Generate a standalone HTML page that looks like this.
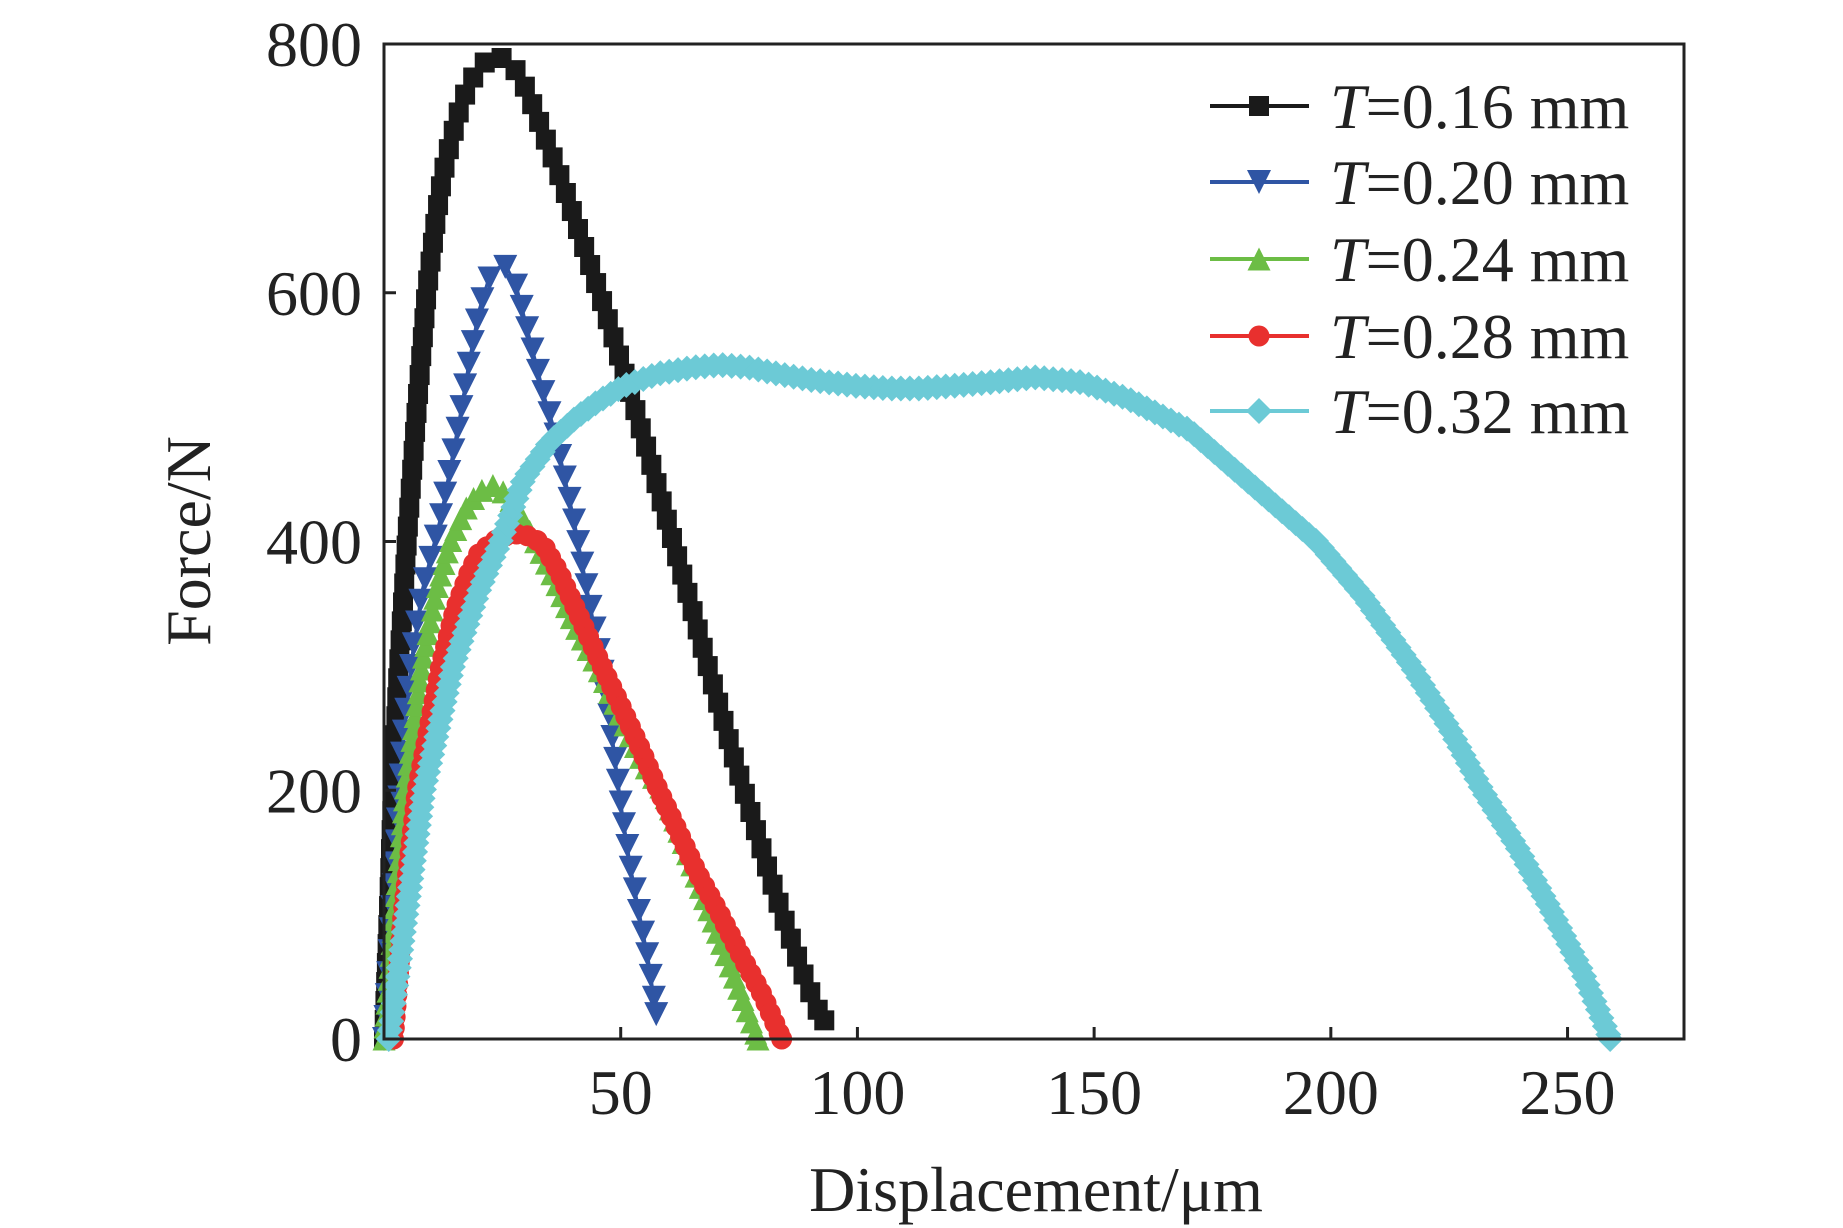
<!DOCTYPE html>
<html><head><meta charset="utf-8"><style>
html,body{margin:0;padding:0;background:#fff}
svg{display:block;font-family:"Liberation Serif",serif}
</style></head><body>
<svg id="chart" width="1843" height="1228" viewBox="0 0 1843 1228" xmlns="http://www.w3.org/2000/svg">
<rect x="0" y="0" width="1843" height="1228" fill="#fff"/>
<g id="series"></g>
<rect x="384" y="44" width="1300" height="995" fill="none" stroke="#222" stroke-width="3"/>
<g id="axes"></g>
<text x="1036" y="1211" font-size="64" text-anchor="middle" fill="#222">Displacement/μm</text>
<text transform="translate(210,541) rotate(-90)" font-size="64" text-anchor="middle" fill="#222">Force/N</text>
<g id="legend"></g>
</svg>
<script>
const xTicks=[50,100,150,200,250];
const yTicks=[0,200,400,600,800];
const seriesNames=["T=0.16 mm","T=0.20 mm","T=0.24 mm","T=0.28 mm","T=0.32 mm"];
const x016=[0,1,2,3,4,5,6,7,8,9,10,11,12,13,14,16,18,20,22,24,26,28,30,32,34,36,38,40,42,44,46,48,50,52,54,56,58,60,62,64,66,68,70,72,74,76,78,80,82,84,86,88,90,92,93];
const y016=[0,100,210,290,350,410,460,510,555,600,630,660,685,705,720,748,768,780,788,790,787,778,764,745,725,705,685,662,640,617,594,570,545,520,494,468,441,414,387,360,333,305,278,252,225,200,175,150,125,102,80,58,38,20,15];
const x020=[0,2,4,6,8,10,12,14,16,18,20,22,24,25,26,28,30,32,34,36,38,40,42,44,46,48,50,52,54,56,57.5];
const y020=[0,120,240,310,360,390,420,460,500,545,585,610,620,622,620,605,575,545,515,490,455,420,380,340,300,250,190,140,100,60,20];
const x024=[0,2,4.5,8,11,14,17,20,23,26,29,32,36,40,45,50,55,59,64,69,74,79];
const y024=[0,90,200,300,360,400,425,440,445,438,420,400,370,335,300,260,220,200,150,100,50,0];
const x028=[2,4,7,10,12,15,18,20,23,26,28,30,32,34,37,40,43,46,50,54,58,62,66,71,75,80,84];
const y028=[0,100,200,260,300,345,375,390,400,405,406,405,402,395,375,350,325,300,268,235,200,168,135,100,70,35,0];
const x032=[1,4.7,8.4,14.6,20,24.6,29.5,35,40.7,45,50.6,58,65.5,71,77,83,90,100,107,113,120,128,137.5,147.5,157,170,182,197,207,217,225,232,240,247,253,259];
const y032=[0,100,200,300,360,400,450,480,500,512,525,535,540,542,540,535,530,525,523,523,525,528,532,528,515,490,450,400,355,300,250,200,150,100,55,0];
const NS="http://www.w3.org/2000/svg";
const L=384,R=1684,T=44,B=1039,XMAX=274.6,YMAX=800;
function sx(v){return L+v*(R-L)/XMAX;}
function sy(v){return B-v*(B-T)/YMAX;}
function mk(tag,attrs,parent){const e=document.createElementNS(NS,tag);for(const k in attrs)e.setAttribute(k,attrs[k]);parent.appendChild(e);return e;}
const axes=document.getElementById('axes');
xTicks.forEach(t=>{
 const l=mk('line',{x1:sx(t),x2:sx(t),y1:B,y2:B-12,stroke:'#222','stroke-width':3},axes);
 
 
 const tx=mk('text',{x:sx(t),y:1114,'font-size':64,'text-anchor':'middle',fill:'#222'},axes);
 tx.textContent=t;
 
 
});
yTicks.forEach(t=>{
 const l=mk('line',{x1:L,x2:L+12,y1:sy(t),y2:sy(t),stroke:'#222','stroke-width':3},axes);
 
 
 const tx=mk('text',{x:362,y:sy(t)+22,'font-size':64,'text-anchor':'end',fill:'#222'},axes);
 tx.textContent=t;
 
 
});
function marker(type,cx,cy,s,color,parent){
 let e;
 if(type==='square')e=mk('rect',{x:cx-s/2,y:cy-s/2,width:s,height:s,fill:color},parent);
 else if(type==='circle')e=mk('circle',{cx:cx,cy:cy,r:s/2,fill:color},parent);
 else if(type==='down')e=mk('polygon',{points:`${cx-s/2},${cy-s/2} ${cx+s/2},${cy-s/2} ${cx},${cy+s/2}`,fill:color},parent);
 else if(type==='up')e=mk('polygon',{points:`${cx-s/2},${cy+s/2} ${cx+s/2},${cy+s/2} ${cx},${cy-s/2}`,fill:color},parent);
 else e=mk('polygon',{points:`${cx},${cy-s/2} ${cx+s/2},${cy} ${cx},${cy+s/2} ${cx-s/2},${cy}`,fill:color},parent);
 return e;
}
const defs=[
 {xs:x016,ys:y016,c:'#1a1a1a',m:'square',s:20,gap:19,name:'series-t016'},
 {xs:x020,ys:y020,c:'#2f55a4',m:'down',s:24,gap:22,name:'series-t020'},
 {xs:x024,ys:y024,c:'#6cbd45',m:'up',s:23,gap:12,name:'series-t024'},
 {xs:x028,ys:y028,c:'#e8302e',m:'circle',s:21,gap:11,name:'series-t028'},
 {xs:x032,ys:y032,c:'#6ccad6',m:'diamond',s:26,gap:9,name:'series-t032'}
];
const sg=document.getElementById('series');
defs.forEach(d=>{
 const g=mk('g',{},sg);
 
 
 const pts=d.xs.map((x,i)=>[sx(x),sy(d.ys[i])]);
 const pl=mk('polyline',{points:pts.map(p=>p.join(',')).join(' '),fill:'none',stroke:d.c,'stroke-width':3},g);
 
 
 let carry=0;
 marker(d.m,pts[0][0],pts[0][1],d.s,d.c,g);
 for(let i=1;i<pts.length;i++){
  const [x0,y0]=pts[i-1],[x1,y1]=pts[i];
  const len=Math.hypot(x1-x0,y1-y0);
  let t=d.gap-carry;
  while(t<=len){const f=t/len;marker(d.m,x0+(x1-x0)*f,y0+(y1-y0)*f,d.s,d.c,g);t+=d.gap;}
  carry=len-(t-d.gap);
 }
 const last=pts[pts.length-1];
 marker(d.m,last[0],last[1],d.s,d.c,g);
});
const lg=document.getElementById('legend');
const legY=[106,182,259,336,411];
defs.forEach((d,i)=>{
 const g=mk('g',{},lg);
 
 
 mk('line',{x1:1210,x2:1309,y1:legY[i],y2:legY[i],stroke:d.c,'stroke-width':4},g);
 marker(d.m,1259,legY[i],d.s,d.c,g);
 const tx=mk('text',{x:1330,y:legY[i]+22,'font-size':64,fill:'#222'},g);
 const parts=seriesNames[i].split('=');
 const it=mk('tspan',{'font-style':'italic'},tx);it.textContent=parts[0];
 const rest=mk('tspan',{},tx);rest.textContent='='+parts[1];
});
</script>
</body></html>
